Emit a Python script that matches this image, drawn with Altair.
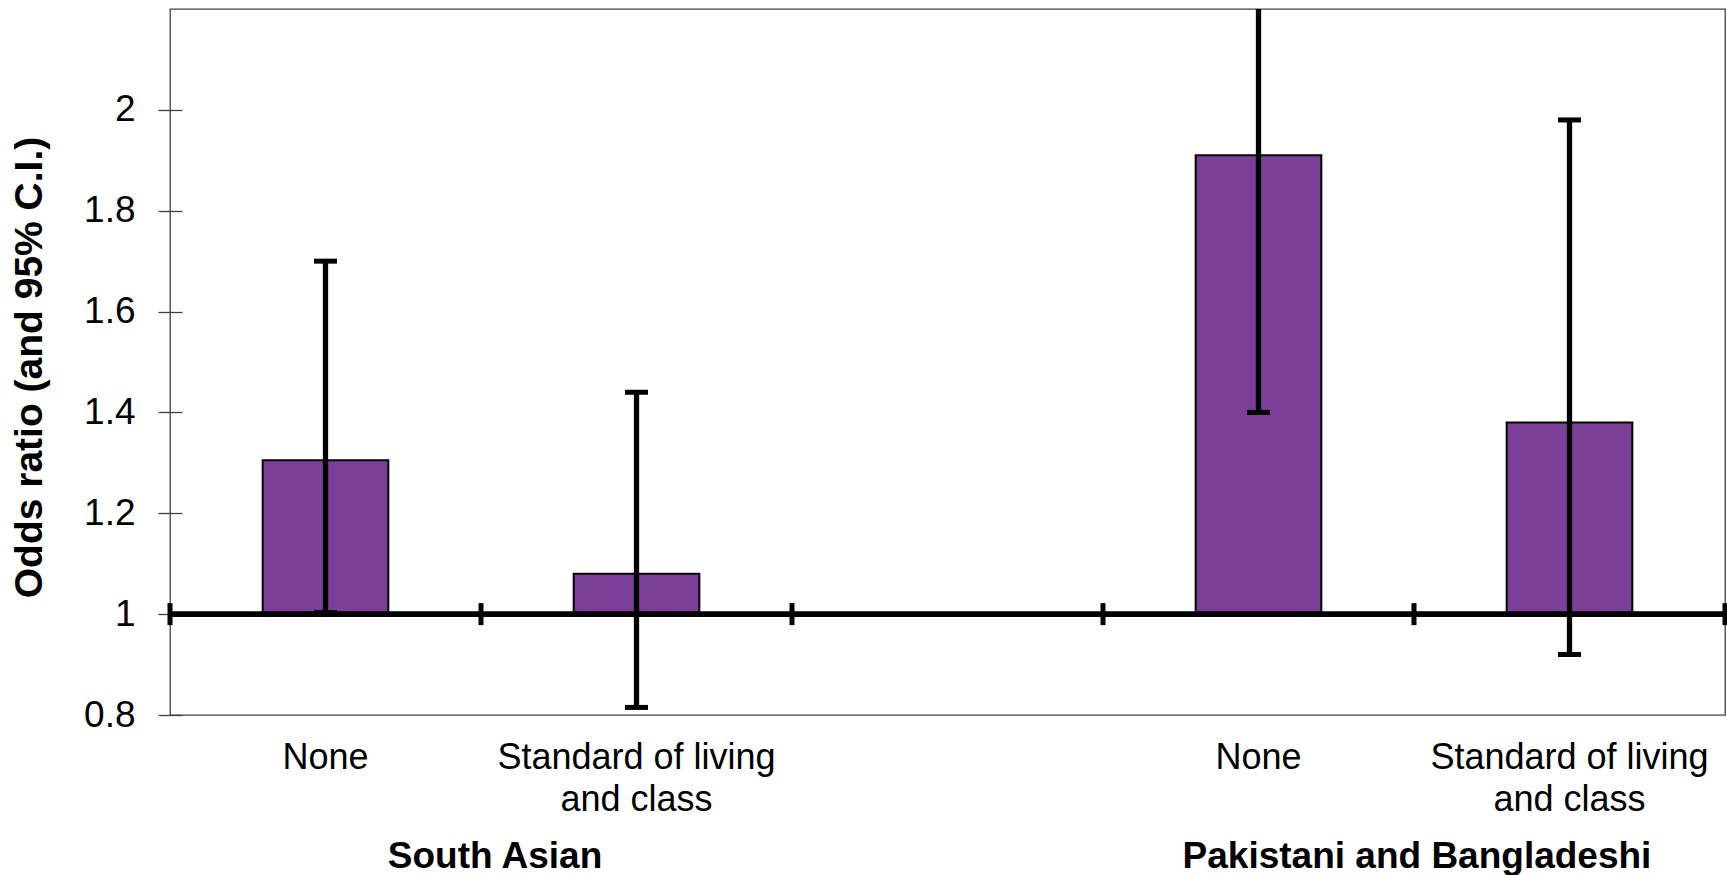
import json

import altair as alt
import pandas as pd

# Category slots along the x axis (the empty slot separates the two groups)
categories = ["sa_none", "sa_sol", "gap", "pb_none", "pb_sol"]
category_labels = ["None", "Standard of living\nand class", "", "None", "Standard of living\nand class"]

# Odds ratios with their 95% confidence limits
bar_categories = ["sa_none", "sa_sol", "pb_none", "pb_sol"]
odds_ratio = [1.305, 1.08, 1.91, 1.38]
ci_lower = [1.003, 0.815, 1.40, 0.92]
ci_upper = [1.70, 1.44, 2.50, 1.98]

# Group captions, centred on the boundary between each pair of bars
group_names = ["South Asian", "Pakistani and Bangladeshi"]
group_anchor = ["sa_sol", "pb_sol"]

y_ticks = [0.8, 1.0, 1.2, 1.4, 1.6, 1.8, 2.0]

FONT = "Liberation Sans"
PURPLE = "#7b3f98"
FRAME = "#404040"

bars_df = pd.DataFrame({
    "category": bar_categories,
    "odds": odds_ratio,
    "lo": ci_lower,
    "hi": ci_upper,
})
slots_df = pd.DataFrame({"category": categories})
groups_df = pd.DataFrame({"group": group_names, "anchor": group_anchor})

# multi-line tick labels for the category axis
label_expr = ""
for key, text in zip(categories, category_labels):
    label_expr += f"datum.value === {json.dumps(key)} ? {json.dumps(text.split(chr(10)))} : "
label_expr += "''"

x_scale = alt.Scale(domain=categories, paddingInner=0, paddingOuter=0)
x_axis = alt.Axis(
    title=None,
    orient="bottom",
    domain=False,
    ticks=False,
    grid=False,
    labelExpr=label_expr,
    labelAngle=0,
    labelFont=FONT,
    labelFontSize=36,
    labelColor="black",
    labelLineHeight=42,
    labelPadding=25,
    labelLimit=0,
    labelOverlap=False,
)

y_scale = alt.Scale(domain=[0.8, 2.2], nice=False, zero=False)
y_axis = alt.Axis(
    title="Odds ratio (and 95% C.I.)",
    values=y_ticks,
    format="~g",
    grid=False,
    domain=False,
    offset=-12,
    tickSize=24,
    tickColor=FRAME,
    tickWidth=1.3,
    labelFont=FONT,
    labelFontSize=37,
    labelColor="black",
    labelPadding=23,
    titleFont=FONT,
    titleFontSize=39,
    titleFontWeight="bold",
    titleColor="black",
    titlePadding=34,
    titleY=358,
)


def x_enc(band_position=0.5, field="category"):
    return alt.X(f"{field}:N", scale=x_scale, axis=x_axis, bandPosition=band_position)


bars = alt.Chart(bars_df).mark_bar(
    width=alt.RelativeBandSize(0.404), fill=PURPLE, stroke="black", strokeWidth=2
).encode(
    x=x_enc(),
    y=alt.Y("odds:Q", scale=y_scale, axis=y_axis),
    y2=alt.datum(1),
)

# reference line at an odds ratio of 1, with tick marks at slot boundaries
baseline = alt.Chart(slots_df).mark_rule(color="black", strokeWidth=5).encode(
    y=alt.YDatum(1, scale=y_scale, axis=y_axis),
)
tick_style = dict(orient="vertical", size=22, thickness=5, color="black", opacity=1)
slot_ticks = alt.Chart(slots_df).mark_tick(**tick_style).encode(
    x=x_enc(0),
    y=alt.YDatum(1, scale=y_scale, axis=y_axis),
)
end_tick = alt.Chart(slots_df).transform_filter(
    alt.datum.category == categories[-1]
).mark_tick(**tick_style).encode(
    x=x_enc(1),
    y=alt.YDatum(1, scale=y_scale, axis=y_axis),
)

whiskers = alt.Chart(bars_df).mark_rule(color="black", strokeWidth=5.3, clip=True).encode(
    x=x_enc(),
    y=alt.Y("lo:Q", scale=y_scale, axis=y_axis),
    y2="hi:Q",
)
cap_style = dict(orient="horizontal", size=23, thickness=5, color="black", opacity=1, clip=True)
cap_lo = alt.Chart(bars_df).mark_tick(**cap_style).encode(
    x=x_enc(),
    y=alt.Y("lo:Q", scale=y_scale, axis=y_axis),
)
cap_hi = alt.Chart(bars_df).mark_tick(**cap_style).encode(
    x=x_enc(),
    y=alt.Y("hi:Q", scale=y_scale, axis=y_axis),
)

group_text = dict(
    font=FONT, fontSize=37, fontWeight="bold", color="black",
    align="center", baseline="alphabetic",
)
sa_caption = alt.Chart(groups_df).transform_filter(
    alt.datum.group == group_names[0]
).mark_text(dx=14, **group_text).encode(
    x=x_enc(0, "anchor"),
    y=alt.value(859),
    text="group:N",
)
pb_caption = alt.Chart(groups_df).transform_filter(
    alt.datum.group == group_names[1]
).mark_text(dx=3, **group_text).encode(
    x=x_enc(0, "anchor"),
    y=alt.value(859),
    text="group:N",
)

chart = alt.layer(
    bars, baseline, slot_ticks, end_tick, whiskers, cap_lo, cap_hi, sa_caption, pb_caption
).properties(
    width=1555,
    height=706,
    autosize=alt.AutoSizeParams(type="none"),
    padding={"left": 170, "top": 9, "right": 2, "bottom": 160},
    background="white",
).configure_view(
    stroke=FRAME,
    strokeWidth=1.3,
)

chart.save("out.html", embed_options={"renderer": "svg", "actions": False})
